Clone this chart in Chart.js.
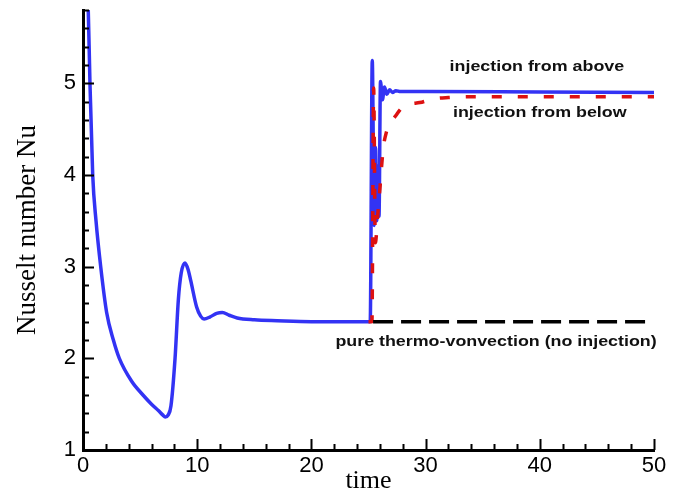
<!DOCTYPE html>
<html>
<head>
<meta charset="utf-8">
<script src="https://cdn.jsdelivr.net/npm/chart.js@4/dist/chart.umd.min.js"></script>
<style>
  html, body { margin: 0; padding: 0; background: #fff; }
  #chart { display: block; }
</style>
</head>
<body>
<canvas id="chart" width="685" height="492"></canvas>
<script>
// Werte
const timeAbove = [0.2, 0.46, 0.61, 0.85, 1.14, 1.55, 2.07, 2.66, 3.18, 4.26, 5.25, 6.0, 6.6, 7.0, 7.2, 7.45, 7.7, 8.06, 8.35, 8.6, 8.93, 9.2, 9.43, 9.95, 10.3, 10.6, 11.1, 11.7, 12.2, 12.8, 13.5, 15, 17, 20, 25.15, 25.33, 25.5, 25.62, 25.72, 25.85, 25.92, 26.05, 26.22, 26.4, 26.6, 26.85, 27.1, 27.4, 27.8, 30, 40, 50];
const nuAbove   = [6.4, 5.8, 5.0, 4.0, 3.5, 3.0, 2.5, 2.2, 2.0, 1.75, 1.6, 1.5, 1.43, 1.38, 1.36, 1.38, 1.48, 2.0, 2.64, 2.93, 3.04, 2.97, 2.85, 2.56, 2.46, 2.43, 2.45, 2.49, 2.5, 2.47, 2.44, 2.42, 2.41, 2.40, 2.40, 5.25, 3.45, 4.3, 3.5, 4.1, 3.55, 5.02, 4.82, 4.96, 4.88, 4.93, 4.9, 4.92, 4.91, 4.91, 4.905, 4.9];

const timeBelow = [25.0, 25.3, 25.45, 25.6, 25.8, 26.0, 26.15, 26.3, 26.55, 26.9, 27.4, 27.9, 28.5, 29.5, 30.7, 32, 34, 40, 50];
const nuBelow   = [2.4, 2.4, 4.95, 3.26, 3.55, 3.85, 4.1, 4.3, 4.46, 4.56, 4.65, 4.73, 4.77, 4.79, 4.83, 4.845, 4.855, 4.855, 4.855];

const timeNone = [25.4, 49.7];
const nuNone   = [2.4, 2.4];

const xTickLabels = [0, 10, 20, 30, 40, 50];
const yTickLabels = [1, 2, 3, 4, 5];

const BLAU = "#3333f4";
const ROT = "#dd1111";

function punkte(xs, ys) {
  return xs.map((x, i) => ({ x: x, y: ys[i] }));
}

// Achsenstriche nach innen, kurz und lang
const striche = {
  id: "striche",
  afterDraw(chart) {
    const ctx = chart.ctx;
    const xs = chart.scales.x;
    const ys = chart.scales.y;
    const x0 = xs.getPixelForValue(0);
    const y0 = ys.getPixelForValue(1);
    ctx.save();
    ctx.strokeStyle = "#000";
    ctx.lineWidth = 2;
    ctx.beginPath();
    for (let v = 0; v <= 50.001; v += 2) {
      const lang = Math.abs(v % 10) < 0.001;
      const px = Math.round(xs.getPixelForValue(v)) + 0.5;
      ctx.moveTo(px, y0);
      ctx.lineTo(px, y0 - (lang ? 11 : 6));
    }
    for (let k = 0; k <= 24; k++) {
      const v = 1 + k * 0.2;
      const lang = k % 5 === 0;
      const py = Math.round(ys.getPixelForValue(v)) + 0.5;
      ctx.moveTo(x0, py);
      ctx.lineTo(x0 + (lang ? 11 : 6), py);
    }
    ctx.stroke();
    ctx.restore();
  }
};

// Beschriftungen im Diagramm
const beschriftung = {
  id: "beschriftung",
  afterDatasetsDraw(chart) {
    const ctx = chart.ctx;
    const xs = chart.scales.x;
    const ys = chart.scales.y;
    const texte = [
      { t: "injection from above", x: 32.1, y: 5.18 },
      { t: "injection from below", x: 32.4, y: 4.68 },
      { t: "pure thermo-vonvection (no injection)", x: 22.1, y: 2.18 }
    ];
    ctx.save();
    ctx.fillStyle = "#111";
    ctx.font = "bold 15px 'Liberation Sans', Arial, sans-serif";
    ctx.textBaseline = "middle";
    ctx.textAlign = "left";
    texte.forEach(e => {
      const px = xs.getPixelForValue(e.x);
      const py = ys.getPixelForValue(e.y);
      ctx.save();
      ctx.translate(px, py);
      ctx.scale(1.19, 1);
      ctx.fillText(e.t, 0, 0);
      ctx.restore();
    });
    ctx.restore();
  }
};

const ctx = document.getElementById("chart").getContext("2d");
new Chart(ctx, {
  type: "line",
  data: {
    datasets: [
      {
        label: "injection from above",
        data: punkte(timeAbove, nuAbove),
        borderColor: BLAU,
        borderWidth: 3.5,
        cubicInterpolationMode: "monotone",
        pointRadius: 0,
        order: 3
      },
      {
        label: "injection from below",
        data: punkte(timeBelow, nuBelow),
        borderColor: ROT,
        borderWidth: 3.5,
        borderDash: [10, 16],
        cubicInterpolationMode: "monotone",
        pointRadius: 0,
        order: 2
      },
      {
        label: "pure thermo-vonvection (no injection)",
        data: punkte(timeNone, nuNone),
        borderColor: "#000",
        borderWidth: 3.5,
        borderDash: [20, 8],
        pointRadius: 0,
        order: 1
      }
    ]
  },
  options: {
    responsive: false,
    animation: false,
    layout: { padding: { left: 0, right: 31, top: 10, bottom: 0 } },
    plugins: {
      legend: { display: false },
      tooltip: { enabled: false }
    },
    scales: {
      x: {
        type: "linear",
        min: 0,
        max: 50,
        afterFit: s => { s.height = 42; },
        afterBuildTicks: s => { s.ticks = xTickLabels.map(v => ({ value: v })); },
        grid: { display: false, drawTicks: false, tickLength: 0 },
        border: { display: true, color: "#000", width: 3 },
        ticks: {
          color: "#000",
          padding: 3,
          maxRotation: 0,
          font: { family: "'Liberation Sans', Arial, sans-serif", size: 22 }
        },
        title: {
          display: true,
          text: "time",
          color: "#000",
          padding: { top: 0, bottom: 0 },
          font: { family: "'Liberation Serif', 'Times New Roman', serif", size: 26, lineHeight: 0.8 }
        }
      },
      y: {
        type: "linear",
        min: 1,
        max: 5.8,
        afterFit: s => { s.width = 83; s.paddingTop = 0; },
        afterBuildTicks: s => { s.ticks = yTickLabels.map(v => ({ value: v })); },
        grid: { display: false, drawTicks: false, tickLength: 0 },
        border: { display: true, color: "#000", width: 3 },
        ticks: {
          color: "#000",
          padding: 7,
          font: { family: "'Liberation Sans', Arial, sans-serif", size: 22 }
        },
        title: {
          display: true,
          text: "Nusselt number Nu",
          color: "#000",
          padding: { top: 12, bottom: 0 },
          font: { family: "'Liberation Serif', 'Times New Roman', serif", size: 27 }
        }
      }
    }
  },
  plugins: [striche, beschriftung]
});
</script>
</body>
</html>
